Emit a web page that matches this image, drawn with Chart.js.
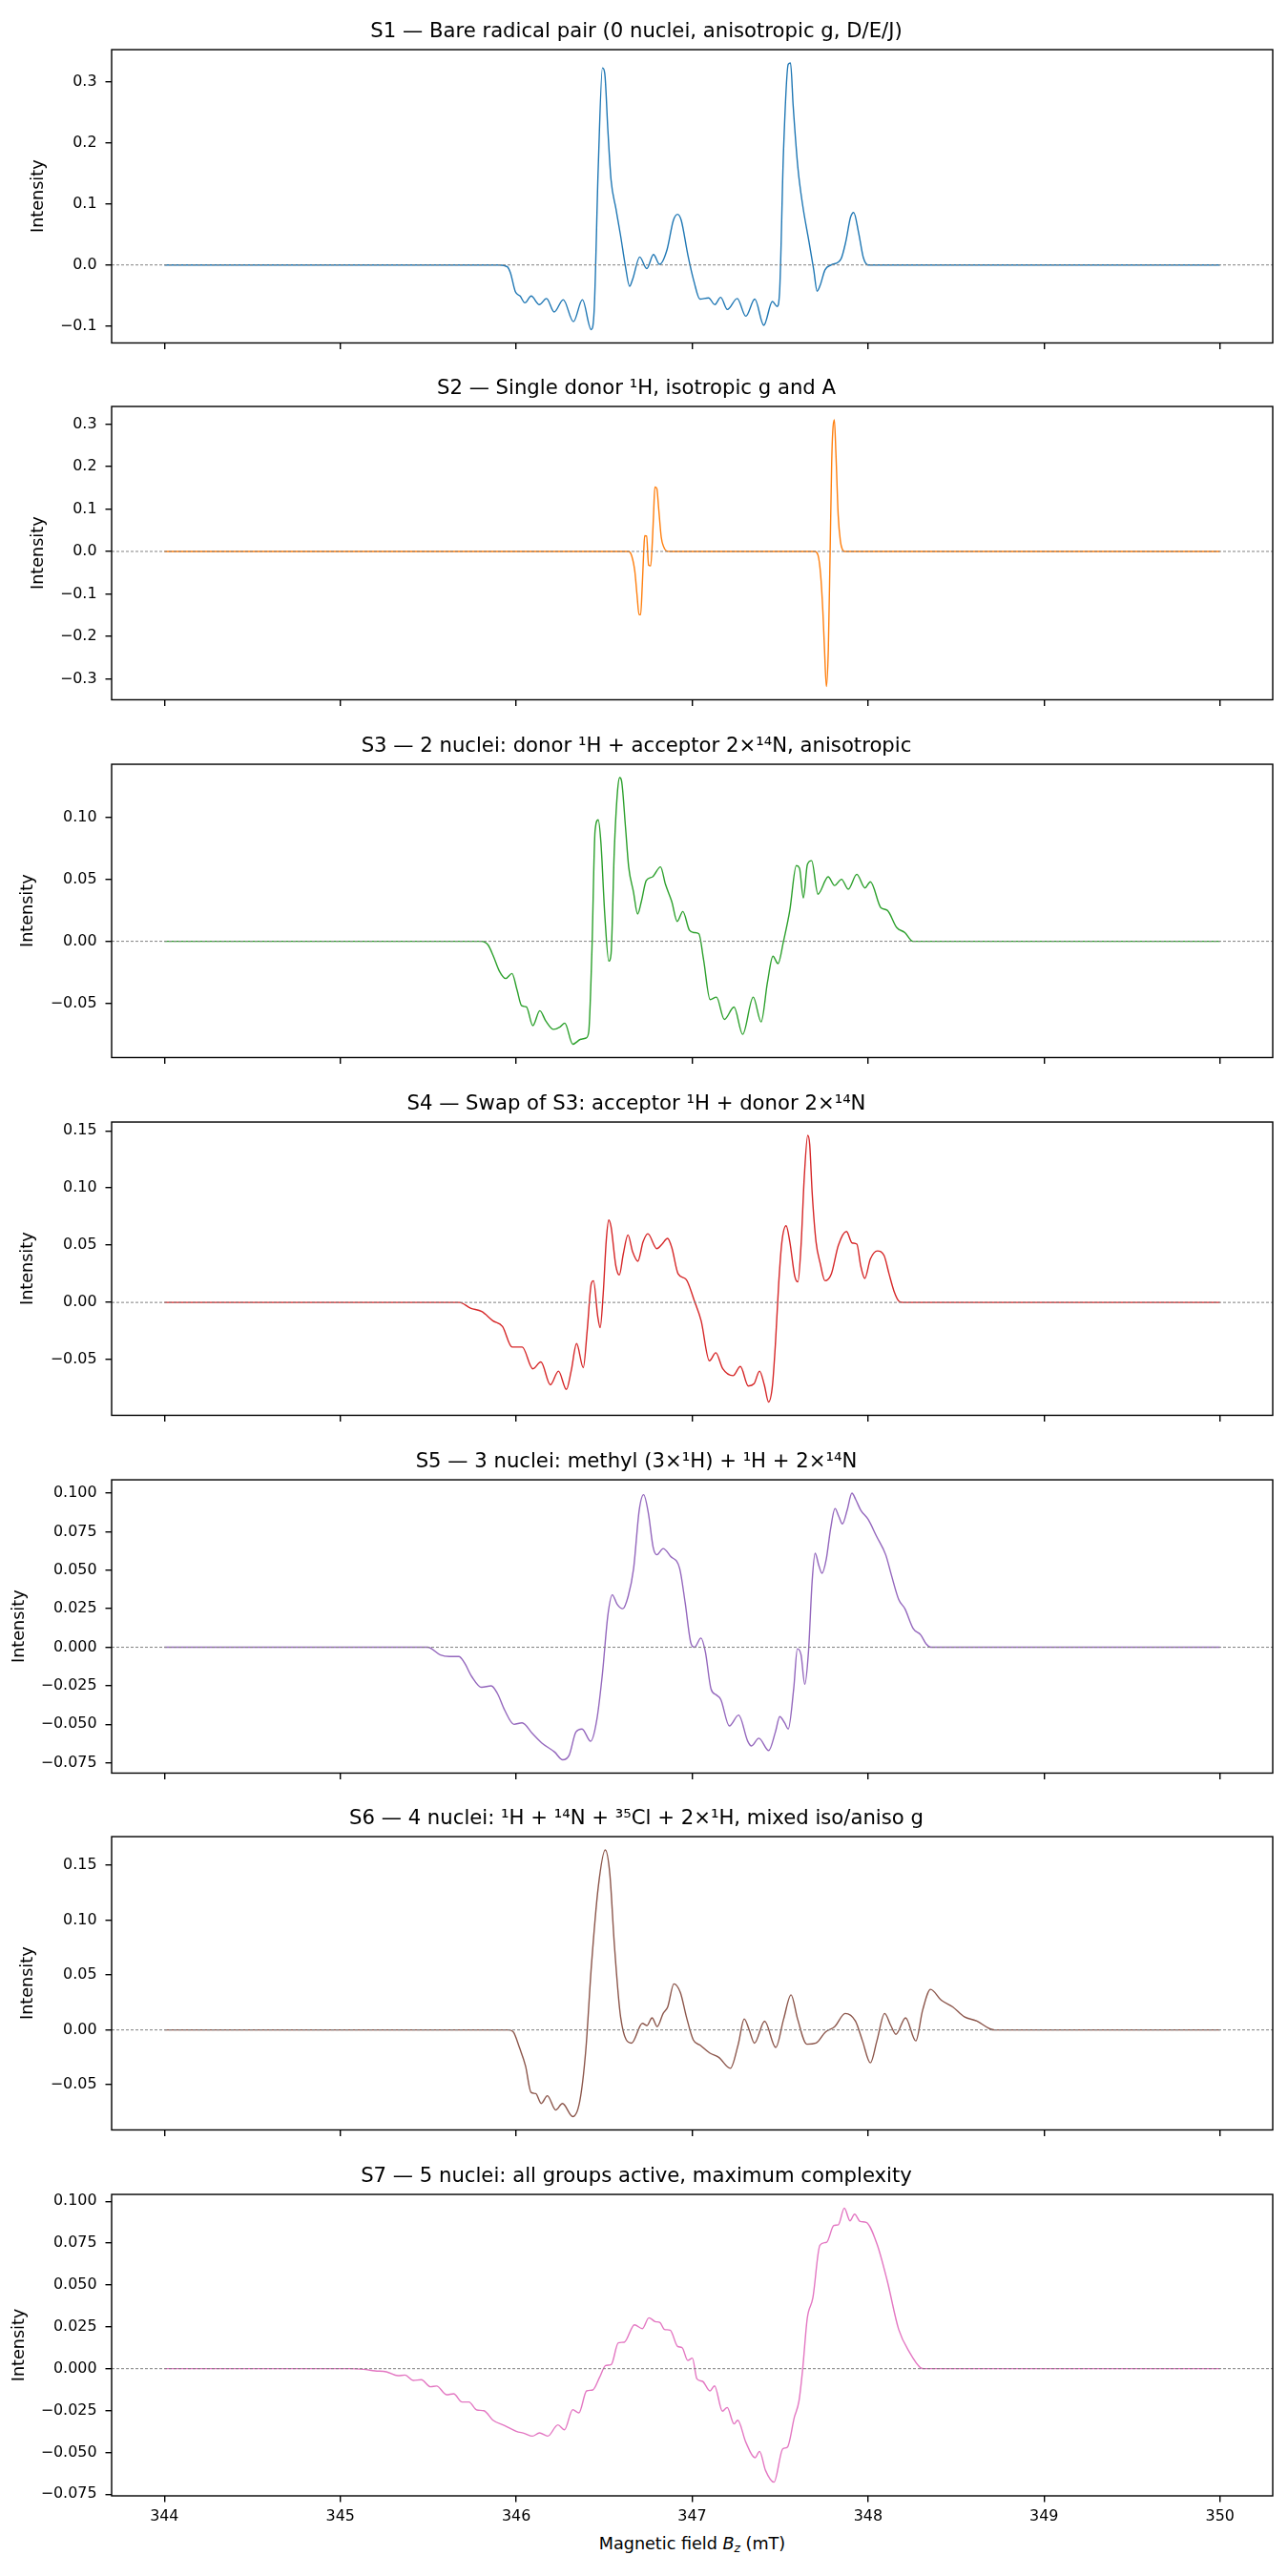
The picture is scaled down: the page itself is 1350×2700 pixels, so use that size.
<!DOCTYPE html>
<html>
<head>
<meta charset="utf-8">
<script src="https://cdn.jsdelivr.net/npm/chart.js@4.4.1/dist/chart.umd.min.js"></script>
<style>
  html, body { margin: 0; padding: 0; background: #ffffff; }
  #fig { position: relative; width: 1350px; height: 2700px; background: #ffffff; overflow: hidden; }
  #fig canvas { position: absolute; left: 0; }
  #xlabel {
    position: absolute; left: 117px; width: 1217px; top: 2654px; height: 24px; text-align: center;
    font-family: 'DejaVu Sans', sans-serif; font-size: 17.6px; color: #000; white-space: nowrap; line-height: 24px;
  }
  #xlabel i { font-style: oblique; }
  #xlabel sub { font-size: 70%; vertical-align: -0.25em; line-height: 0; }
</style>
</head>
<body>
<div id="fig"><div id="xlabel">Magnetic field <i>B</i><sub><i>z</i></sub> (mT)</div></div>
<script>
// ---------------- data ----------------
const titles = [
  'S1 \u2014 Bare radical pair (0 nuclei, anisotropic g, D/E/J)',
  'S2 \u2014 Single donor \u00b9H, isotropic g and A',
  'S3 \u2014 2 nuclei: donor \u00b9H + acceptor 2\u00d7\u00b9\u2074N, anisotropic',
  'S4 \u2014 Swap of S3: acceptor \u00b9H + donor 2\u00d7\u00b9\u2074N',
  'S5 \u2014 3 nuclei: methyl (3\u00d7\u00b9H) + \u00b9H + 2\u00d7\u00b9\u2074N',
  'S6 \u2014 4 nuclei: \u00b9H + \u00b9\u2074N + \u00b3\u2075Cl + 2\u00d7\u00b9H, mixed iso/aniso g',
  'S7 \u2014 5 nuclei: all groups active, maximum complexity'
];

const xTicks = [344, 345, 346, 347, 348, 349, 350];
const yTickSteps = [0.1, 0.1, 0.05, 0.05, 0.025, 0.05, 0.025];
const yTickDecimals = [1, 1, 2, 2, 3, 2, 3];

const s1Field = [344, 345.904, 345.949, 345.967, 345.995, 346.022, 346.049, 346.085, 346.131, 346.172, 346.216, 346.267, 346.325, 346.376, 346.426, 346.443, 346.466, 346.490, 346.503, 346.521, 346.539, 346.566, 346.593, 346.621, 346.644, 346.662, 346.702, 346.742, 346.780, 346.815, 346.857, 346.893, 346.917, 346.938, 346.975, 347.011, 347.044, 347.093, 347.129, 347.162, 347.200, 347.256, 347.305, 347.356, 347.407, 347.456, 347.483, 347.497, 347.519, 347.546, 347.559, 347.574, 347.601, 347.628, 347.664, 347.691, 347.710, 347.728, 347.755, 347.791, 347.846, 347.873, 347.900, 347.918, 347.946, 347.973, 348.000, 350];
const s1Intensity = [0, 0, -0.003, -0.013, -0.044, -0.051, -0.062, -0.051, -0.065, -0.055, -0.077, -0.057, -0.093, -0.057, -0.106, -0.074, 0.159, 0.323, 0.314, 0.220, 0.139, 0.093, 0.048, -0.003, -0.035, -0.023, 0.013, -0.006, 0.017, 0.001, 0.025, 0.073, 0.083, 0.073, 0.017, -0.028, -0.056, -0.054, -0.065, -0.053, -0.073, -0.055, -0.084, -0.056, -0.099, -0.060, -0.068, -0.044, 0.185, 0.329, 0.331, 0.261, 0.159, 0.098, 0.038, -0.008, -0.043, -0.033, -0.008, 0, 0.010, 0.038, 0.078, 0.086, 0.053, 0.012, 0, 0];

const s2Field = [344, 346.638, 346.656, 346.674, 346.687, 346.698, 346.707, 346.716, 346.725, 346.730, 346.741, 346.752, 346.764, 346.774, 346.781, 346.788, 346.799, 346.810, 346.824, 346.837, 346.855, 346.873, 347.697, 347.716, 347.730, 347.743, 347.752, 347.763, 347.774, 347.784, 347.793, 347.799, 347.808, 347.817, 347.830, 347.842, 347.856, 347.868, 350];
const s2Intensity = [0, 0, -0.010, -0.047, -0.105, -0.149, -0.149, -0.083, 0.004, 0.037, 0.036, -0.032, -0.034, 0.026, 0.092, 0.152, 0.148, 0.099, 0.034, 0.012, 0.001, 0, 0, -0.010, -0.054, -0.142, -0.229, -0.318, -0.229, -0.003, 0.209, 0.282, 0.310, 0.231, 0.085, 0.026, 0.003, 0, 0];

const s3Field = [344, 345.80, 345.84, 345.87, 345.904, 345.940, 345.976, 346.004, 346.031, 346.058, 346.094, 346.134, 346.167, 346.212, 346.249, 346.276, 346.321, 346.367, 346.397, 346.412, 346.430, 346.448, 346.466, 346.481, 346.503, 346.526, 346.539, 346.557, 346.575, 346.588, 346.599, 346.621, 346.639, 346.666, 346.690, 346.711, 346.739, 346.775, 346.820, 346.848, 346.884, 346.915, 346.947, 346.984, 347.011, 347.038, 347.065, 347.102, 347.138, 347.183, 347.238, 347.287, 347.347, 347.392, 347.428, 347.459, 347.488, 347.519, 347.555, 347.592, 347.610, 347.632, 347.655, 347.679, 347.715, 347.773, 347.809, 347.849, 347.887, 347.936, 347.982, 348.013, 348.073, 348.109, 348.163, 348.209, 348.254, 350];
const s3Intensity = [0, 0, -0.003, -0.012, -0.024, -0.030, -0.026, -0.039, -0.052, -0.053, -0.068, -0.056, -0.064, -0.071, -0.069, -0.066, -0.083, -0.079, -0.078, -0.073, -0.008, 0.089, 0.098, 0.080, 0.022, -0.016, -0.010, 0.072, 0.120, 0.132, 0.129, 0.092, 0.060, 0.040, 0.022, 0.032, 0.049, 0.052, 0.060, 0.046, 0.032, 0.016, 0.024, 0.009, 0.007, 0.006, -0.015, -0.047, -0.045, -0.063, -0.053, -0.075, -0.045, -0.065, -0.033, -0.012, -0.018, 0, 0.025, 0.061, 0.059, 0.035, 0.062, 0.065, 0.038, 0.052, 0.045, 0.050, 0.042, 0.054, 0.043, 0.048, 0.027, 0.025, 0.011, 0.007, 0, 0];

const s4Field = [344, 345.677, 345.740, 345.804, 345.867, 345.922, 345.976, 346.034, 346.094, 346.140, 346.194, 346.240, 346.285, 346.312, 346.343, 346.381, 346.403, 346.426, 346.439, 346.463, 346.477, 346.494, 346.512, 346.526, 346.539, 346.566, 346.586, 346.608, 346.635, 346.662, 346.691, 346.721, 346.748, 346.799, 346.829, 346.860, 346.884, 346.920, 346.966, 347.011, 347.051, 347.098, 347.134, 347.174, 347.232, 347.274, 347.319, 347.352, 347.383, 347.410, 347.434, 347.456, 347.474, 347.492, 347.510, 347.534, 347.555, 347.583, 347.601, 347.619, 347.637, 347.657, 347.668, 347.682, 347.704, 347.728, 347.755, 347.791, 347.831, 347.877, 347.909, 347.936, 347.958, 347.981, 348.013, 348.053, 348.091, 348.119, 348.147, 348.176, 348.200, 350];
const s4Intensity = [0, 0, -0.005, -0.008, -0.016, -0.021, -0.039, -0.039, -0.058, -0.052, -0.072, -0.060, -0.076, -0.060, -0.036, -0.057, -0.025, 0.016, 0.019, -0.012, -0.022, 0.007, 0.055, 0.072, 0.066, 0.032, 0.024, 0.042, 0.059, 0.044, 0.036, 0.053, 0.060, 0.047, 0.051, 0.056, 0.048, 0.025, 0.020, 0.002, -0.016, -0.051, -0.044, -0.058, -0.064, -0.056, -0.073, -0.071, -0.060, -0.072, -0.087, -0.073, -0.034, 0.017, 0.053, 0.067, 0.053, 0.023, 0.018, 0.050, 0.109, 0.146, 0.138, 0.096, 0.053, 0.034, 0.019, 0.025, 0.050, 0.062, 0.052, 0.051, 0.032, 0.021, 0.038, 0.045, 0.041, 0.025, 0.010, 0.001, 0, 0];

const s5Field = [344, 345.496, 345.569, 345.621, 345.674, 345.705, 345.747, 345.803, 345.858, 345.893, 345.935, 345.987, 346.033, 346.092, 346.144, 346.218, 346.264, 346.301, 346.339, 346.374, 346.423, 346.458, 346.490, 346.521, 346.546, 346.573, 346.605, 346.636, 346.667, 346.699, 346.724, 346.751, 346.778, 346.799, 346.835, 346.877, 346.929, 346.960, 346.992, 347.013, 347.050, 347.075, 347.107, 347.138, 347.163, 347.211, 347.264, 347.316, 347.337, 347.379, 347.435, 347.473, 347.498, 347.525, 347.546, 347.577, 347.598, 347.619, 347.640, 347.661, 347.682, 347.699, 347.720, 347.738, 347.762, 347.787, 347.812, 347.833, 347.854, 347.881, 347.908, 347.929, 347.958, 348.000, 348.048, 348.100, 348.132, 348.174, 348.209, 348.257, 348.299, 348.331, 348.356, 350];
const s5Intensity = [0, 0, -0.005, -0.006, -0.006, -0.010, -0.019, -0.026, -0.025, -0.030, -0.041, -0.050, -0.049, -0.056, -0.062, -0.068, -0.073, -0.070, -0.055, -0.053, -0.061, -0.047, -0.017, 0.021, 0.034, 0.028, 0.025, 0.033, 0.051, 0.089, 0.099, 0.087, 0.065, 0.060, 0.064, 0.059, 0.051, 0.029, 0.003, 0, 0.006, -0.003, -0.027, -0.031, -0.034, -0.051, -0.044, -0.061, -0.064, -0.059, -0.067, -0.055, -0.045, -0.049, -0.053, -0.027, -0.001, -0.005, -0.024, -0.003, 0.043, 0.061, 0.053, 0.048, 0.057, 0.077, 0.090, 0.085, 0.080, 0.089, 0.100, 0.096, 0.089, 0.083, 0.072, 0.060, 0.047, 0.031, 0.025, 0.012, 0.008, 0.002, 0, 0];

const s6Field = [344, 345.958, 345.984, 346.018, 346.053, 346.084, 346.111, 346.142, 346.177, 346.224, 346.263, 346.321, 346.361, 346.395, 346.427, 346.466, 346.506, 346.532, 346.558, 346.593, 346.656, 346.717, 346.743, 346.772, 346.801, 346.835, 346.861, 346.896, 346.933, 346.967, 347.006, 347.046, 347.099, 347.151, 347.217, 347.262, 347.296, 347.322, 347.354, 347.412, 347.475, 347.520, 347.562, 347.599, 347.652, 347.704, 347.757, 347.810, 347.870, 347.928, 347.968, 348.013, 348.050, 348.094, 348.129, 348.158, 348.213, 348.271, 348.310, 348.355, 348.416, 348.481, 348.547, 348.619, 348.692, 348.719, 350];
const s6Intensity = [0, 0, -0.002, -0.016, -0.033, -0.057, -0.058, -0.067, -0.060, -0.073, -0.067, -0.079, -0.065, -0.019, 0.058, 0.130, 0.164, 0.142, 0.077, 0.012, -0.012, 0.006, 0.004, 0.011, 0.003, 0.015, 0.021, 0.042, 0.034, 0.012, -0.009, -0.014, -0.021, -0.025, -0.035, -0.013, 0.010, 0.001, -0.012, 0.008, -0.016, 0.010, 0.032, 0.010, -0.013, -0.012, -0.002, 0.003, 0.015, 0.008, -0.010, -0.030, -0.010, 0.015, 0.004, -0.004, 0.011, -0.010, 0.018, 0.037, 0.027, 0.021, 0.012, 0.008, 0.001, 0, 0];

const s7Field = [344, 345.052, 345.131, 345.197, 345.262, 345.328, 345.368, 345.415, 345.460, 345.513, 345.547, 345.605, 345.644, 345.692, 345.731, 345.776, 345.816, 345.868, 345.934, 346.000, 346.047, 346.092, 346.132, 346.179, 346.237, 346.274, 346.321, 346.356, 346.400, 346.435, 346.474, 346.508, 346.540, 346.580, 346.614, 346.672, 346.717, 346.754, 346.790, 346.817, 346.843, 346.875, 346.917, 346.943, 346.975, 347.001, 347.027, 347.059, 347.101, 347.127, 347.172, 347.199, 347.238, 347.259, 347.304, 347.357, 347.383, 347.417, 347.465, 347.515, 347.541, 347.581, 347.607, 347.628, 347.654, 347.686, 347.726, 347.765, 347.805, 347.831, 347.865, 347.897, 347.923, 347.955, 347.989, 348.050, 348.108, 348.174, 348.239, 348.297, 348.318, 350];
const s7Intensity = [0, 0, -0.0004, -0.0013, -0.0019, -0.0042, -0.0038, -0.0070, -0.0066, -0.0108, -0.0104, -0.0156, -0.0150, -0.0199, -0.0199, -0.0247, -0.0251, -0.0308, -0.0340, -0.0374, -0.0387, -0.0403, -0.0384, -0.0403, -0.0336, -0.0365, -0.0245, -0.0264, -0.0133, -0.0127, -0.0051, 0.0019, 0.0025, 0.0154, 0.0158, 0.0262, 0.0239, 0.0304, 0.0281, 0.0275, 0.0234, 0.0230, 0.0133, 0.0125, 0.0049, 0.0063, -0.0061, -0.0076, -0.0133, -0.0103, -0.0254, -0.0232, -0.0330, -0.0308, -0.0437, -0.0532, -0.0494, -0.0608, -0.0678, -0.0479, -0.0469, -0.0289, -0.0194, -0.0004, 0.0300, 0.0423, 0.0737, 0.0756, 0.0855, 0.0860, 0.0959, 0.0883, 0.0923, 0.0879, 0.0874, 0.0746, 0.0528, 0.0234, 0.0091, 0.0006, 0, 0];

const fields = [s1Field, s2Field, s3Field, s4Field, s5Field, s6Field, s7Field];
const intensities = [s1Intensity, s2Intensity, s3Intensity, s4Intensity, s5Intensity, s6Intensity, s7Intensity];

// ---------------- styling / layout ----------------
const lineColors = ['#1f77b4', '#ff7f0e', '#2ca02c', '#d62728', '#9467bd', '#8c564b', '#e377c2'];
const FONT = "'DejaVu Sans', sans-serif";
const AREA_LEFT = 117, AREA_RIGHT_PAD = 16, AREA_TOP = 52, AREA_H = 316;
const PITCH = 374.7, FIRST_TOP = 51.7;
const yTitlePad = { 1: 29.4, 2: 18.4, 3: 9.4 };

function fmtTick(v, dec) {
  if (Math.abs(v) < 1e-9) v = 0;
  const s = v.toFixed(dec);
  return s.startsWith('-') ? '\u2212' + s.slice(1) : s;
}

const framePlugin = {
  id: 'frameAndZero',
  afterDatasetsDraw(chart) {
    const { ctx, chartArea: a, scales } = chart;
    const y0 = scales.y.getPixelForValue(0);
    ctx.save();
    ctx.strokeStyle = '#808080';
    ctx.lineWidth = 1;
    ctx.setLineDash([3, 2]);
    ctx.beginPath();
    ctx.moveTo(a.left, y0);
    ctx.lineTo(a.right, y0);
    ctx.stroke();
    ctx.setLineDash([]);
    ctx.strokeStyle = '#000';
    ctx.lineWidth = 1.4;
    ctx.strokeRect(a.left, a.top, a.right - a.left, a.bottom - a.top);
    ctx.restore();
  }
};

const fig = document.getElementById('fig');
const nPanels = titles.length;

for (let i = 0; i < nPanels; i++) {
  const isLast = i === nPanels - 1;
  const top = Math.round(FIRST_TOP + i * PITCH - AREA_TOP);
  const xAxisH = isLast ? 84 : 10;
  const height = isLast ? (2700 - top) : (AREA_TOP + AREA_H + xAxisH);
  const canvas = document.createElement('canvas');
  canvas.width = 1350;
  canvas.height = height;
  canvas.style.top = top + 'px';
  canvas.style.width = '1350px';
  canvas.style.height = height + 'px';
  fig.appendChild(canvas);

  const xs = fields[i], ys = intensities[i];
  const pts = xs.map((x, k) => ({ x: x, y: ys[k] }));
  const lo = Math.min(...ys), hi = Math.max(...ys), r = hi - lo;
  const dec = yTickDecimals[i];

  new Chart(canvas, {
    type: 'line',
    data: {
      datasets: [{
        data: pts,
        borderColor: lineColors[i],
        borderWidth: 1.4,
        pointRadius: 0,
        fill: false,
        cubicInterpolationMode: 'monotone'
      }]
    },
    options: {
      responsive: false,
      animation: false,
      devicePixelRatio: 1,
      events: [],
      layout: { padding: { left: 0, right: AREA_RIGHT_PAD, top: 0, bottom: 0 } },
      plugins: {
        legend: { display: false },
        tooltip: { enabled: false },
        title: {
          display: true,
          text: titles[i],
          color: '#000',
          font: { family: FONT, size: 21.2, weight: 'normal', lineHeight: 1.2 },
          padding: { top: 20.3, bottom: 6.3 }
        }
      },
      scales: {
        x: {
          type: 'linear',
          min: 343.7,
          max: 350.3,
          border: { display: false },
          grid: { display: true, drawOnChartArea: false, drawTicks: true, tickLength: 6.5, color: '#000', lineWidth: 1.4 },
          ticks: {
            display: isLast,
            stepSize: xTicks[1] - xTicks[0],
            includeBounds: false,
            autoSkip: false,
            maxRotation: 0,
            color: '#000',
            padding: 6,
            font: { family: FONT, size: 15.9 },
            callback: (v) => xTicks.includes(v) ? String(v) : ''
          },
          afterFit: (s) => { s.height = xAxisH; }
        },
        y: {
          type: 'linear',
          min: lo - 0.05 * r,
          max: hi + 0.05 * r,
          border: { display: false },
          grid: { display: true, drawOnChartArea: false, drawTicks: true, tickLength: 6.5, color: '#000', lineWidth: 1.4 },
          ticks: {
            stepSize: yTickSteps[i],
            includeBounds: false,
            autoSkip: false,
            color: '#000',
            padding: 9,
            font: { family: FONT, size: 15.9 },
            callback: (v) => fmtTick(v, dec)
          },
          title: {
            display: true,
            text: 'Intensity',
            color: '#000',
            font: { family: FONT, size: 17.6, lineHeight: 1.2 },
            padding: { top: yTitlePad[dec], bottom: 0 }
          },
          afterFit: (s) => { s.width = AREA_LEFT; }
        }
      }
    },
    plugins: [framePlugin]
  });
}
</script>
</body>
</html>
